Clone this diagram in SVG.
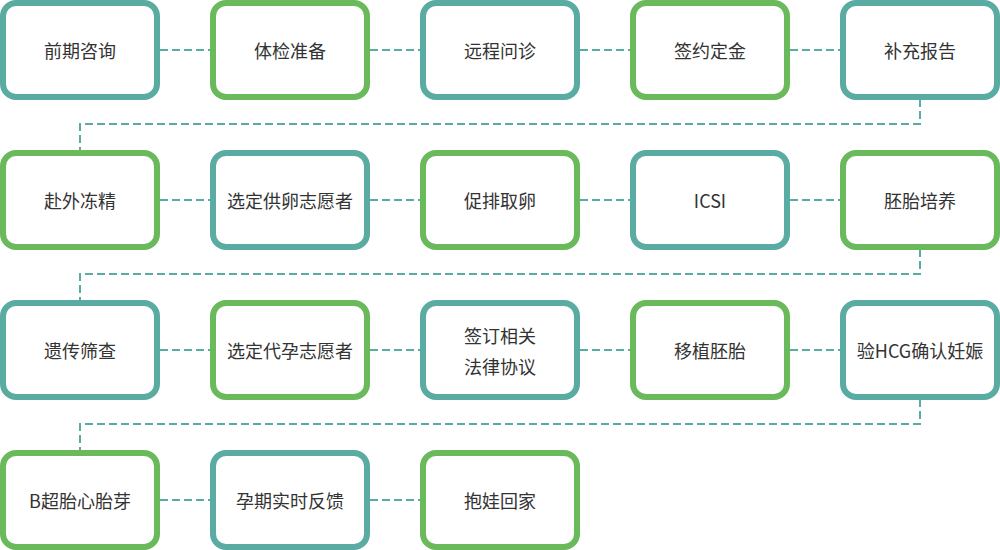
<svg xmlns="http://www.w3.org/2000/svg" width="1000" height="550" viewBox="0 0 1000 550">
<style>
.b rect{fill:#fff;stroke-width:6}
.t rect{stroke:#5aaca3}
.g rect{stroke:#6ab95b}
text{font-family:"Microsoft YaHei","Noto Sans CJK SC","Noto Sans",sans-serif;font-size:18px;fill:#333;text-anchor:middle;dominant-baseline:central}
.c path{fill:none;stroke:#5aaca3;stroke-width:2;stroke-dasharray:8 4}
</style>
<g class="c" id="connectors">
<path d="M160 50H210M370 50H420M580 50H630M790 50H840"/>
<path d="M920 99V124H80V150"/>
<path d="M160 200H210M370 200H420M580 200H630M790 200H840"/>
<path d="M920 249V274H80V300"/>
<path d="M160 350H210M370 350H420M580 350H630M790 350H840"/>
<path d="M920 399V424H80V450"/>
<path d="M160 500H210M370 500H420"/>
</g>
<g id="n1" class="b t"><rect x="3" y="3" width="154" height="94" rx="13"/><text x="80" y="50">前期咨询</text></g>
<g id="n2" class="b g"><rect x="213" y="3" width="154" height="94" rx="13"/><text x="290" y="50">体检准备</text></g>
<g id="n3" class="b t"><rect x="423" y="3" width="154" height="94" rx="13"/><text x="500" y="50">远程问诊</text></g>
<g id="n4" class="b g"><rect x="633" y="3" width="154" height="94" rx="13"/><text x="710" y="50">签约定金</text></g>
<g id="n5" class="b t"><rect x="843" y="3" width="154" height="94" rx="13"/><text x="920" y="50">补充报告</text></g>
<g id="n6" class="b g"><rect x="3" y="153" width="154" height="94" rx="13"/><text x="80" y="200">赴外冻精</text></g>
<g id="n7" class="b t"><rect x="213" y="153" width="154" height="94" rx="13"/><text x="290" y="200">选定供卵志愿者</text></g>
<g id="n8" class="b g"><rect x="423" y="153" width="154" height="94" rx="13"/><text x="500" y="200">促排取卵</text></g>
<g id="n9" class="b t"><rect x="633" y="153" width="154" height="94" rx="13"/><text x="710" y="200">ICSI</text></g>
<g id="n10" class="b g"><rect x="843" y="153" width="154" height="94" rx="13"/><text x="920" y="200">胚胎培养</text></g>
<g id="n11" class="b t"><rect x="3" y="303" width="154" height="94" rx="13"/><text x="80" y="350">遗传筛查</text></g>
<g id="n12" class="b g"><rect x="213" y="303" width="154" height="94" rx="13"/><text x="290" y="350">选定代孕志愿者</text></g>
<g id="n13" class="b t"><rect x="423" y="303" width="154" height="94" rx="13"/><text x="500" y="335">签订相关</text><text x="500" y="366">法律协议</text></g>
<g id="n14" class="b g"><rect x="633" y="303" width="154" height="94" rx="13"/><text x="710" y="350">移植胚胎</text></g>
<g id="n15" class="b t"><rect x="843" y="303" width="154" height="94" rx="13"/><text x="920" y="350">验HCG确认妊娠</text></g>
<g id="n16" class="b g"><rect x="3" y="453" width="154" height="94" rx="13"/><text x="80" y="500">B超胎心胎芽</text></g>
<g id="n17" class="b t"><rect x="213" y="453" width="154" height="94" rx="13"/><text x="290" y="500">孕期实时反馈</text></g>
<g id="n18" class="b g"><rect x="423" y="453" width="154" height="94" rx="13"/><text x="500" y="500">抱娃回家</text></g>
</svg>
